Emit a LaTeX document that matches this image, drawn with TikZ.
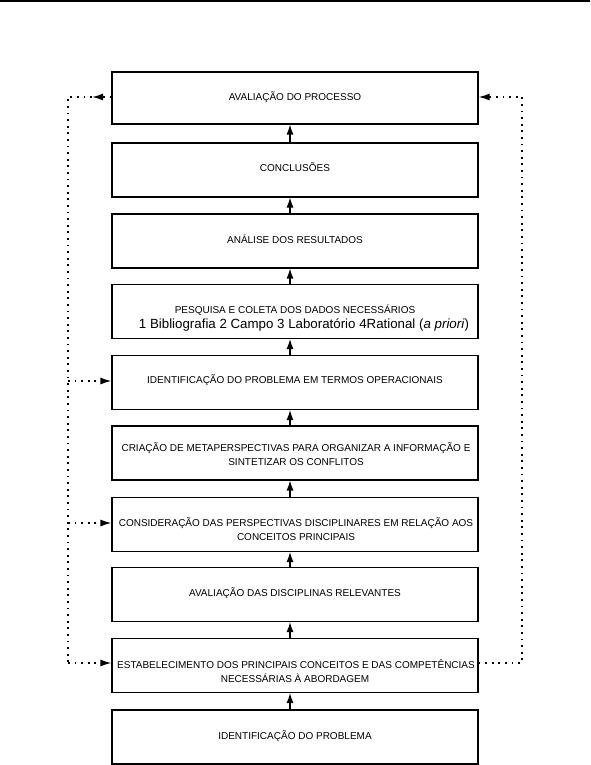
\documentclass[tikz,border=0pt]{standalone}
\usepackage{fontspec}
\setmainfont{Liberation Sans}
\usetikzlibrary{arrows.meta}
\begin{document}
\begin{tikzpicture}[x=1pt,y=-1pt,
  box/.style={draw, line width=1.1pt, minimum width=366pt, minimum height=54pt, inner sep=0pt},
  txt/.style={font=\fontsize{10}{12}\selectfont, anchor=base, inner sep=0pt},
  big/.style={font=\fontsize{13.3}{15}\selectfont, anchor=base, inner sep=0pt},
  flow/.style={line width=1.2pt, -{Latex[length=10pt,width=7pt]}},
  dots/.style={line width=1.5pt, dash pattern=on 1.8pt off 4.8pt},
  dotarrow/.style={dots, -{Latex[length=11pt,width=7pt]}}
]
\useasboundingbox (0,0) rectangle (590,765);
\draw[line width=1.6pt] (0,0.9) -- (590,0.9);

% boxes
\node[box, minimum height=52pt] (b1) at (295,98) {};
\node[box] (b2) at (295,170) {};
\node[box] (b3) at (295,241) {};
\node[box] (b4) at (295,311.5) {};
\node[box] (b5) at (295,382.5) {};
\node[box] (b6) at (295,453) {};
\node[box] (b7) at (295,524.5) {};
\node[box] (b8) at (295,594.5) {};
\node[box] (b9) at (295,665.5) {};
\node[box] (b10) at (295,737) {};

% texts
\node[txt] (t1) at (295,100.6) {AVALIAÇÃO DO PROCESSO};
\node[txt] (t2) at (295,171.6) {CONCLUSÕES};
\node[txt] (t3) at (295,243) {ANÁLISE DOS RESULTADOS};
\node[txt] (t4a) at (295,313.6) {PESQUISA E COLETA DOS DADOS NECESSÁRIOS};
\node[big] (t4b) at (304,328) {1 Bibliografia 2 Campo 3 Laboratório 4Rational (\textit{a priori})};
\node[txt] (t5) at (295,383.6) {IDENTIFICAÇÃO DO PROBLEMA EM TERMOS OPERACIONAIS};
\node[txt] (t6a) at (296,451.6) {CRIAÇÃO DE METAPERSPECTIVAS PARA ORGANIZAR A INFORMAÇÃO E};
\node[txt] (t6b) at (296,465.6) {SINTETIZAR OS CONFLITOS};
\node[txt] (t7a) at (296,526.6) {CONSIDERAÇÃO DAS PERSPECTIVAS DISCIPLINARES EM RELAÇÃO AOS};
\node[txt] (t7b) at (296,540.6) {CONCEITOS PRINCIPAIS};
\node[txt] (t8) at (295,596.6) {AVALIAÇÃO DAS DISCIPLINAS RELEVANTES};
\node[txt] (t9a) at (296,668.6) {ESTABELECIMENTO DOS PRINCIPAIS CONCEITOS E DAS COMPETÊNCIAS};
\node[txt] (t9b) at (295,682.6) {NECESSÁRIAS À ABORDAGEM};
\node[txt] (t10) at (295,739.6) {IDENTIFICAÇÃO DO PROBLEMA};

% upward arrows
\foreach \a/\b in {b2/b1,b3/b2,b4/b3,b5/b4,b6/b5,b7/b6,b8/b7,b9/b8,b10/b9}
  \draw[flow] ([xshift=-5pt]\a.north) -- ([xshift=-5pt]\b.south);

% dotted feedback
\coordinate (ltop) at (68,97);
\coordinate (lmid) at (92,97);
\coordinate (lbot) at (68,663);
\coordinate (l5) at (68,381);
\coordinate (l7) at (68,523);
\coordinate (rtop) at (522,97);
\coordinate (rbot) at (522,663);

\draw[dotarrow] (b1.west |- lmid) -- (lmid);
\draw[dots] (lmid) -- (ltop) -- (lbot);
\draw[dotarrow] (lbot) -- (lbot -| b9.west);
\draw[dotarrow] (l5) -- (l5 -| b5.west);
\draw[dotarrow] (l7) -- (l7 -| b7.west);
\draw[dotarrow] (rbot -| b9.east) -- (rbot) -- (rtop) -- (rtop -| b1.east);
\end{tikzpicture}
\end{document}
